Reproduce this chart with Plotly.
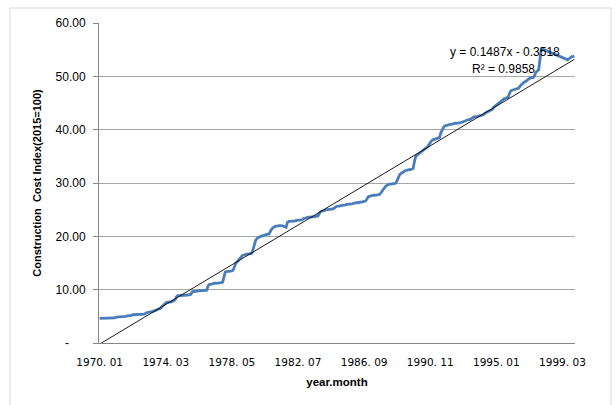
import plotly.graph_objects as go

# Monthly construction cost index (2015=100), 1970.01 .. 1999.12
index_1970 = [4.6, 4.6, 4.6, 4.6, 4.7, 4.7, 4.7, 4.7, 4.7, 4.7, 4.7, 4.7]
index_1971 = [4.8, 4.9, 4.9, 4.9, 4.9, 5.0, 5.0, 5.0, 5.0, 5.1, 5.1, 5.1]
index_1972 = [5.2, 5.3, 5.3, 5.3, 5.3, 5.3, 5.3, 5.3, 5.3, 5.3, 5.4, 5.6]
index_1973 = [5.7, 5.7, 5.8, 5.9, 5.9, 6.0, 6.1, 6.2, 6.2, 6.3, 6.5, 6.8]
index_1974 = [7.1, 7.3, 7.5, 7.6, 7.6, 7.7, 7.7, 7.8, 7.9, 8.1, 8.6, 8.9]
index_1975 = [8.9, 8.9, 8.9, 8.9, 9.0, 9.0, 9.0, 9.0, 9.1, 9.1, 9.6, 9.7]
index_1976 = [9.7, 9.7, 9.8, 9.8, 9.8, 9.8, 9.8, 9.8, 9.8, 9.9, 10.7, 11.0]
index_1977 = [11.0, 11.1, 11.1, 11.2, 11.2, 11.2, 11.2, 11.3, 11.3, 11.4, 12.6, 13.3]
index_1978 = [13.4, 13.4, 13.4, 13.4, 13.5, 13.7, 14.4, 15.0, 15.2, 15.5, 15.9, 16.1]
index_1979 = [16.4, 16.5, 16.6, 16.6, 16.7, 16.7, 16.8, 16.8, 17.5, 18.4, 19.3, 19.6]
index_1980 = [19.8, 19.9, 20.0, 20.1, 20.2, 20.3, 20.3, 20.4, 20.4, 21.0, 21.3, 21.6]
index_1981 = [21.8, 21.9, 21.9, 22.0, 22.0, 22.0, 22.0, 21.9, 21.8, 21.7, 22.6, 22.8]
index_1982 = [22.8, 22.8, 22.9, 22.9, 22.9, 23.0, 23.0, 23.0, 23.0, 23.1, 23.3, 23.4]
index_1983 = [23.4, 23.5, 23.6, 23.6, 23.6, 23.7, 23.7, 23.7, 23.8, 23.8, 24.2, 24.6]
index_1984 = [24.7, 24.8, 24.9, 25.0, 25.0, 25.0, 25.1, 25.1, 25.1, 25.2, 25.4, 25.6]
index_1985 = [25.6, 25.7, 25.7, 25.8, 25.8, 25.9, 25.9, 26.0, 26.0, 26.0, 26.1, 26.1]
index_1986 = [26.2, 26.3, 26.3, 26.3, 26.4, 26.4, 26.4, 26.5, 26.5, 26.6, 26.9, 27.4]
index_1987 = [27.5, 27.6, 27.6, 27.7, 27.7, 27.7, 27.8, 27.8, 27.9, 28.3, 28.7, 29.0]
index_1988 = [29.3, 29.5, 29.7, 29.8, 29.8, 29.9, 29.9, 29.9, 30.0, 30.5, 31.2, 31.6]
index_1989 = [31.8, 31.9, 32.1, 32.3, 32.4, 32.5, 32.5, 32.5, 32.6, 32.7, 33.9, 35.0]
index_1990 = [35.2, 35.4, 35.6, 35.8, 36.0, 36.2, 36.4, 36.6, 36.8, 37.2, 37.6, 37.9]
index_1991 = [38.1, 38.2, 38.3, 38.4, 38.4, 38.5, 39.4, 40.0, 40.4, 40.7, 40.8, 40.9]
index_1992 = [41.0, 41.0, 41.0, 41.1, 41.1, 41.2, 41.2, 41.2, 41.3, 41.3, 41.4, 41.5]
index_1993 = [41.6, 41.8, 41.8, 41.9, 41.9, 42.0, 42.2, 42.4, 42.4, 42.5, 42.5, 42.6]
index_1994 = [42.6, 42.7, 42.8, 43.1, 43.2, 43.3, 43.4, 43.5, 43.6, 43.8, 44.2, 44.4]
index_1995 = [44.6, 44.9, 45.1, 45.3, 45.5, 45.7, 45.8, 45.9, 46.0, 46.1, 46.8, 47.3]
index_1996 = [47.4, 47.5, 47.5, 47.6, 47.7, 47.8, 48.2, 48.5, 48.7, 48.9, 49.0, 49.2]
index_1997 = [49.5, 49.6, 49.7, 49.8, 49.8, 50.2, 50.8, 51.0, 51.2, 53.2, 55.0, 55.1]
index_1998 = [55.0, 54.9, 54.8, 54.7, 54.6, 54.5, 54.4, 54.3, 54.2, 54.1, 53.9, 53.8]
index_1999 = [53.7, 53.6, 53.5, 53.4, 53.3, 53.2, 53.1, 53.3, 53.6, 53.7, 53.7, 53.8]

yearly = [index_1970, index_1971, index_1972, index_1973, index_1974, index_1975,
          index_1976, index_1977, index_1978, index_1979, index_1980, index_1981,
          index_1982, index_1983, index_1984, index_1985, index_1986, index_1987,
          index_1988, index_1989, index_1990, index_1991, index_1992, index_1993,
          index_1994, index_1995, index_1996, index_1997, index_1998, index_1999]
values = [v for yr in yearly for v in yr]
months = list(range(1, len(values) + 1))

# x tick labels (every 50 months)
tick_positions = [1, 51, 101, 151, 201, 251, 301, 351]
tick_labels = ["1970. 01", "1974. 03", "1978. 05", "1982. 07",
               "1986. 09", "1990. 11", "1995. 01", "1999. 03"]
y_ticks = [0, 10, 20, 30, 40, 50, 60]
y_tick_labels = ["-" + "\u00a0" * 5, "10.00", "20.00", "30.00", "40.00", "50.00", "60.00"]

# Linear trendline as displayed on the chart
slope = 0.1487
intercept = -0.3518
trend_x = [months[0], months[-1]]
trend_y = [slope * x + intercept for x in trend_x]

fig = go.Figure()
fig.add_trace(go.Scatter(x=months, y=values, mode="lines",
                         line=dict(color="#4a7ebb", width=2.8), showlegend=False))
fig.add_trace(go.Scatter(x=trend_x, y=trend_y, mode="lines",
                         line=dict(color="#000000", width=0.9), showlegend=False))

font_main = "Liberation Sans, Arial, sans-serif"

fig.update_layout(
    width=616, height=405,
    margin=dict(l=99, r=41, t=23, b=62),
    paper_bgcolor="white", plot_bgcolor="white",
    font=dict(family=font_main, size=11, color="#000000"),
    xaxis=dict(
        range=[0.5, len(values) + 0.5],
        tickmode="array", tickvals=tick_positions, ticktext=tick_labels,
        showgrid=False, zeroline=False,
        showline=True, linecolor="#868686", linewidth=1,
        ticks="", tickfont=dict(size=10.5, family="DejaVu Sans, sans-serif"),
        ticklabelstandoff=9,
        title=dict(text="<b>year.month</b>", font=dict(size=11.5), standoff=11),
    ),
    yaxis=dict(
        range=[0, 60],
        tickmode="array", tickvals=y_ticks, ticktext=y_tick_labels,
        showgrid=True, gridcolor="#a6a6a6", gridwidth=1,
        zeroline=False,
        showline=True, linecolor="#868686", linewidth=1,
        ticks="outside", ticklen=5, tickcolor="#868686",
        tickfont=dict(size=12), ticklabelstandoff=5,
        title=dict(text="<b>Construction  Cost Index(2015=100)</b>",
                   font=dict(size=11), standoff=11),
    ),
    shapes=[dict(type="rect", xref="paper", yref="paper",
                 x0=(10 - 99) / 476, x1=(611 - 99) / 476,
                 y0=(343 - 420) / 320, y1=(343 - 8) / 320,
                 line=dict(color="#d9d9d9", width=1), fillcolor="rgba(0,0,0,0)",
                 layer="below")],
    annotations=[
        dict(text="y = 0.1487x - 0.3518", xref="paper", yref="paper",
             x=(562 - 99) / 476, y=(343 - 52) / 320, xanchor="right", yanchor="middle",
             showarrow=False, font=dict(size=12, color="#000000")),
        dict(text="R\u00b2 = 0.9858", xref="paper", yref="paper",
             x=(537 - 99) / 476, y=(343 - 69) / 320, xanchor="right", yanchor="middle",
             showarrow=False, font=dict(size=12, color="#000000")),
    ],
)

fig.write_html("out.html", config={"displayModeBar": False},
               post_script="document.body.style.margin='0';")
